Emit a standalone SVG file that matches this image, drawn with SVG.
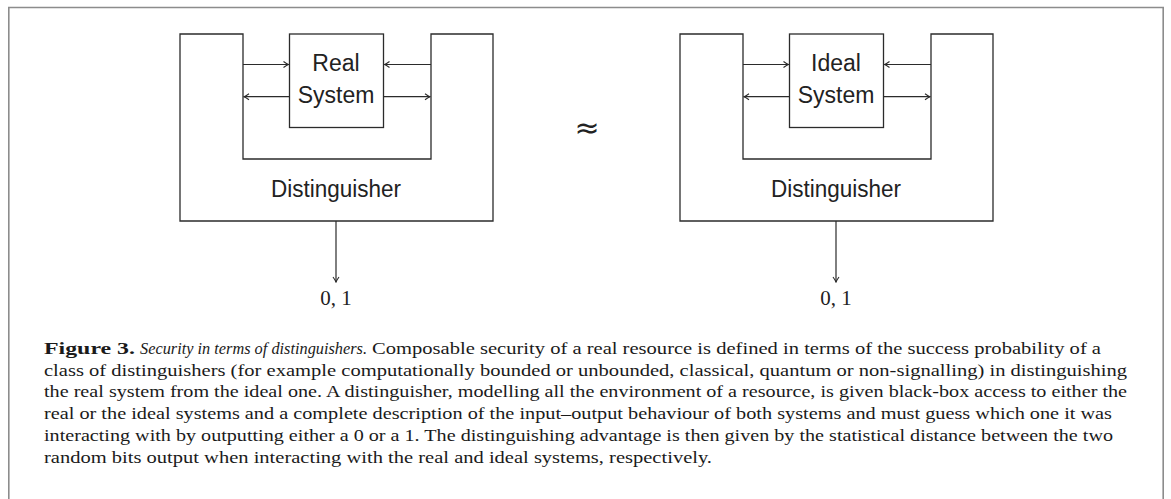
<svg xmlns="http://www.w3.org/2000/svg" width="1171" height="499" viewBox="0 0 1171 499">
<style>
.frame{fill:none;stroke:#8c8c8c;stroke-width:1.6}
.shape{fill:none;stroke:#2b2b2b;stroke-width:1.3}
.conn{fill:none;stroke:#2b2b2b;stroke-width:1.2;marker-end:url(#ah)}
.lbl{font-family:"Liberation Sans","DejaVu Sans",sans-serif;font-size:23px;fill:#222;text-anchor:middle}
.math{font-family:"Liberation Serif","DejaVu Serif",serif;font-size:21px;fill:#222;text-anchor:middle}
.cap{font-family:"Liberation Serif","DejaVu Serif",serif;font-size:17.5px;fill:#1a1a1a}
</style>
<defs>
<marker id="ah" viewBox="-6 -4 7 8" refX="0" refY="0" markerWidth="7" markerHeight="8" markerUnits="userSpaceOnUse" orient="auto">
<path d="M-5,-3 Q-1.5,-0.5 0,0 Q-1.5,0.5 -5,3" fill="none" stroke="#2b2b2b" stroke-width="1.1"/>
</marker>
</defs>
<rect width="1171" height="499" fill="#fff"/>
<path class="frame" d="M8.8,499 V7.5 H1163.2 V499"/>

<g id="real-distinguisher">
<path class="shape" d="M180,34 H243 V159 H431 V34 H493 V221 H180 Z"/>
<text class="lbl" x="336" y="196.5" textLength="130" lengthAdjust="spacingAndGlyphs">Distinguisher</text>
</g>
<g id="real-system">
<rect class="shape" x="289.5" y="34" width="94" height="93.5"/>
<text class="lbl" x="336" y="70.5">Real</text>
<text class="lbl" x="336" y="103">System</text>
</g>
<g id="real-output">
<text class="math" x="336" y="305">0, 1</text>
</g>

<g id="approx">
<text x="587" y="137.5" style="font-family:'DejaVu Sans',sans-serif;font-size:30px;fill:#222;text-anchor:middle">≈</text>
</g>

<g id="ideal-distinguisher">
<path class="shape" d="M680,34 H743 V159 H931 V34 H993 V221 H680 Z"/>
<text class="lbl" x="836" y="196.5" textLength="130" lengthAdjust="spacingAndGlyphs">Distinguisher</text>
</g>
<g id="ideal-system">
<rect class="shape" x="789.5" y="34" width="94" height="93.5"/>
<text class="lbl" x="836" y="70.5">Ideal</text>
<text class="lbl" x="836" y="103">System</text>
</g>
<g id="ideal-output">
<text class="math" x="836" y="305">0, 1</text>
</g>

<g id="connectors">
<line class="conn" x1="243" y1="64.5" x2="288.5" y2="64.5"/>
<line class="conn" x1="431" y1="64.5" x2="384.5" y2="64.5"/>
<line class="conn" x1="289.5" y1="96.7" x2="244" y2="96.7"/>
<line class="conn" x1="383.5" y1="96.7" x2="430" y2="96.7"/>
<line class="conn" x1="336" y1="221" x2="336" y2="282"/>
<line class="conn" x1="743" y1="64.5" x2="788.5" y2="64.5"/>
<line class="conn" x1="931" y1="64.5" x2="884.5" y2="64.5"/>
<line class="conn" x1="789.5" y1="96.7" x2="744" y2="96.7"/>
<line class="conn" x1="883.5" y1="96.7" x2="930" y2="96.7"/>
<line class="conn" x1="836" y1="221" x2="836" y2="282"/>
</g>

<g id="caption">
<text class="cap" x="44" y="354" font-weight="bold" textLength="91" lengthAdjust="spacingAndGlyphs">Figure 3.</text>
<text class="cap" x="140" y="354" font-style="italic" textLength="227" lengthAdjust="spacingAndGlyphs">Security in terms of distinguishers.</text>
<text class="cap" x="372" y="354" textLength="729" lengthAdjust="spacingAndGlyphs">Composable security of a real resource is defined in terms of the success probability of a</text>
<text class="cap" x="44" y="375.7" textLength="1083" lengthAdjust="spacingAndGlyphs">class of distinguishers (for example computationally bounded or unbounded, classical, quantum or non-signalling) in distinguishing</text>
<text class="cap" x="44" y="397.4" textLength="1083" lengthAdjust="spacingAndGlyphs">the real system from the ideal one. A distinguisher, modelling all the environment of a resource, is given black-box access to either the</text>
<text class="cap" x="44" y="419.1" textLength="1068" lengthAdjust="spacingAndGlyphs">real or the ideal systems and a complete description of the input–output behaviour of both systems and must guess which one it was</text>
<text class="cap" x="44" y="440.8" textLength="1069" lengthAdjust="spacingAndGlyphs">interacting with by outputting either a 0 or a 1. The distinguishing advantage is then given by the statistical distance between the two</text>
<text class="cap" x="44" y="462.5" textLength="668" lengthAdjust="spacingAndGlyphs">random bits output when interacting with the real and ideal systems, respectively.</text>
</g>
</svg>
